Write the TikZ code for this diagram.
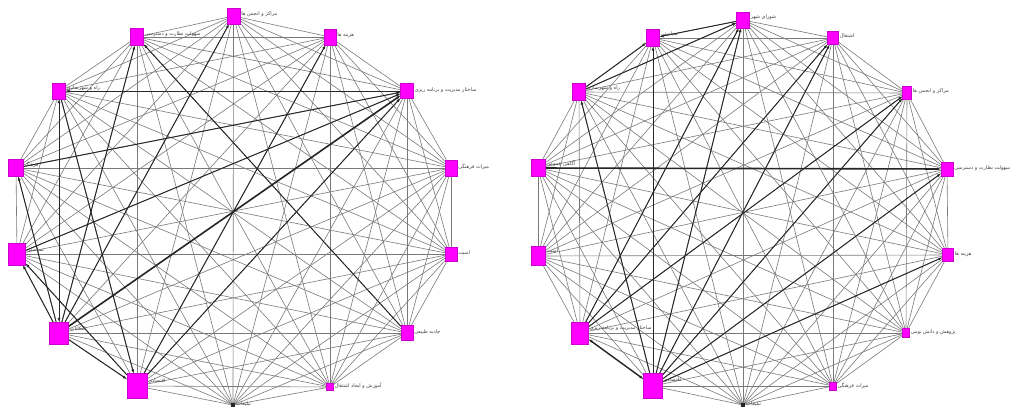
\documentclass[tikz,border=0pt]{standalone}
\usepackage{fontspec}
\usetikzlibrary{arrows.meta}
\newfontfamily\ar[Script=Arabic]{DejaVu Sans}
\TeXXeTstate=1
\definecolor{mag}{RGB}{255,0,255}
\pgfdeclarelayer{bg}
\pgfsetlayers{bg,main}
\tikzset{
  sq/.style args={#1/#2}{draw=mag!80!black, line width=0.2pt, fill=mag, inner sep=0pt,
     minimum width=#1pt, minimum height=#2pt},
  dot/.style={draw=none, fill=black!85, inner sep=0pt, minimum size=4pt},
  lab/.style={anchor=west, font=\ar\fontsize{5}{6}\selectfont, text=black!75, inner sep=1pt},
  lite/.style={draw=black!52, line width=0.6pt},
  dk/.style={draw=black!85, line width=0.95pt, -{Latex[length=4pt,width=3pt]}},
  dkk/.style={dk, line width=1.6pt},
  dkb/.style={dk, {Latex[length=4pt,width=3pt]}-{Latex[length=4pt,width=3pt]}}
}
\begin{document}
\begin{tikzpicture}[x=1pt,y=-1pt]
\useasboundingbox (0,0) rectangle (1012,410);
% ---------- left graph ----------
\node[sq=13/16] (L0) at (233.5,16) {};
\node[sq=12/16] (L1) at (330,37) {};
\node[sq=13/15] (L2) at (407,91) {};
\node[sq=12/16] (L3) at (451,168) {};
\node[sq=12/14] (L4) at (451,254) {};
\node[sq=12/15] (L5) at (407,333) {};
\node[sq=7/7]   (L6) at (330,387) {};
\node[dot]      (L7) at (233,405) {};
\node[sq=20/25] (L8) at (137,386) {};
\node[sq=19/22] (L9) at (59,333) {};
\node[sq=17/22] (L10) at (17,254) {};
\node[sq=15/17] (L11) at (16,168) {};
\node[sq=13/16] (L12) at (59,91) {};
\node[sq=13/17] (L13) at (137,37) {};
% ---------- right graph ----------
\node[sq=13/16] (R0) at (743,20) {};
\node[sq=11/13] (R1) at (833,38) {};
\node[sq=9/13]  (R2) at (907,93) {};
\node[sq=12/14] (R3) at (947,169) {};
\node[sq=11/13] (R4) at (948,255) {};
\node[sq=7/9]   (R5) at (906,333) {};
\node[sq=7/8]   (R6) at (833,386) {};
\node[dot]      (R7) at (743,405) {};
\node[sq=19/25] (R8) at (653,386) {};
\node[sq=17/22] (R9) at (580,333) {};
\node[sq=14/19] (R10) at (538,256) {};
\node[sq=14/17] (R11) at (538,168) {};
\node[sq=13/17] (R12) at (579,92) {};
\node[sq=13/17] (R13) at (653,38) {};
% ---------- labels ----------
\node[lab] (tL0) at ([yshift=2pt]L0.east) {\beginR مراکز و انجمن ها\endR};
\node[lab] (tL1) at ([yshift=2pt]L1.east) {\beginR هزینه ها\endR};
\node[lab] (tL2) at ([yshift=1pt]L2.east) {\beginR ساختار مدیریت و برنامه ریزی\endR};
\node[lab] (tL3) at ([yshift=1pt]L3.east) {\beginR میراث فرهنگی\endR};
\node[lab] (tL4) at ([yshift=1pt]L4.east) {\beginR امنیت\endR};
\node[lab] (tL5) at ([yshift=1pt]L5.east) {\beginR جاذبه طبیعی\endR};
\node[lab] (tL6) at ([yshift=1pt]L6.east) {\beginR آموزش و ایجاد اشتغال\endR};
\node[lab] (tL7) at ([yshift=1pt]L7.east) {\beginR تبلیغات\endR};
\node[lab] (tL8) at ([yshift=5pt]L8.east) {\beginR اقتصادی\endR};
\node[lab] (tL9) at ([yshift=4pt]L9.east) {\beginR امکانات\endR};
\node[lab] (tL10) at ([yshift=4pt]L10.east) {\beginR سیاستی\endR};
\node[lab] (tL11) at ([yshift=3pt]L11.east) {\beginR فرهنگ\endR};
\node[lab] (tL12) at ([yshift=3pt]L12.east) {\beginR راه و شهرسازی\endR};
\node[lab] (tL13) at ([yshift=3pt]L13.east) {\beginR سهولت نظارت و دسترسی\endR};
\node[lab] (tR0) at ([yshift=3pt]R0.east) {\beginR شورای شهر\endR};
\node[lab] (tR1) at ([yshift=2pt]R1.east) {\beginR اشتغال\endR};
\node[lab] (tR2) at ([yshift=2pt]R2.east) {\beginR مراکز و انجمن ها\endR};
\node[lab] (tR3) at ([yshift=1pt]R3.east) {\beginR سهولت نظارت و دسترسی\endR};
\node[lab] (tR4) at ([yshift=1pt]R4.east) {\beginR هزینه ها\endR};
\node[lab] (tR5) at ([yshift=1pt]R5.east) {\beginR پژوهش و دانش بومی\endR};
\node[lab] (tR6) at ([yshift=0pt]R6.east) {\beginR میراث فرهنگی\endR};
\node[lab] (tR7) at ([yshift=1pt]R7.east) {\beginR تبلیغات\endR};
\node[lab] (tR8) at ([yshift=6pt]R8.east) {\beginR اقتصادی\endR};
\node[lab] (tR9) at ([yshift=5pt]R9.east) {\beginR ساختار مدیریت و برنامه ریزی\endR};
\node[lab] (tR10) at ([yshift=5pt]R10.east) {\beginR امنیت\endR};
\node[lab] (tR11) at ([yshift=4pt]R11.east) {\beginR آگاهی عمومی\endR};
\node[lab] (tR12) at ([yshift=4pt]R12.east) {\beginR راه و شهرسازی\endR};
\node[lab] (tR13) at ([yshift=4pt]R13.east) {\beginR سیاستی\endR};
% ---------- edges ----------
\begin{pgfonlayer}{bg}
\fill[white] (0,0) rectangle (1012,410);
\foreach \p in {L,R}{
  \foreach \i in {0,...,12}{
    \pgfmathtruncatemacro\s{\i+1}
    \foreach \j in {\s,...,13}{ \draw[lite] (\p\i) -- (\p\j); }
  }
}
% left highlighted
\draw[dk]  (L2) -- (L12);
\draw[dk]  (L11) -- (L2);
\draw[dk]  (L10) -- (L2);
\draw[dkk] (L9) -- (L2);
\draw[dk]  (L8) -- (L2);
\draw[dk]  (L9) -- (L0);
\draw[dk]  (L8) -- (L1);
\draw[dk]  (L5) -- (L13);
\draw[dkb] (L12) -- (L9);
\draw[dk]  (L12) -- (L8);
\draw[dk]  (L9) -- (L13);
\draw[dk]  (L9) -- (L8);
\draw[dk]  (L8) -- (L10);
\draw[dk]  (L9) -- (L10);
\draw[dk]  (L9) -- (L11);
% right highlighted
\draw[dk]  (R0) -- (R13);
\draw[dk]  (R12) -- (R13);
\draw[dk]  (R12) -- (R0);
\draw[dkk] (R11) -- (R3);
\draw[dk]  (R8) -- (R12);
\draw[dkb, line width=1.4pt] (R9) -- (R8);
\draw[dk]  (R8) -- (R13);
\draw[dk]  (R9) -- (R0);
\draw[dk]  (R9) -- (R1);
\draw[dk]  (R9) -- (R2);
\draw[dk]  (R8) -- (R0);
\draw[dk]  (R8) -- (R1);
\draw[dk]  (R8) -- (R2);
\draw[dk]  (R8) -- (R3);
\draw[dk]  (R8) -- (R4);
\end{pgfonlayer}
\end{tikzpicture}
\end{document}
